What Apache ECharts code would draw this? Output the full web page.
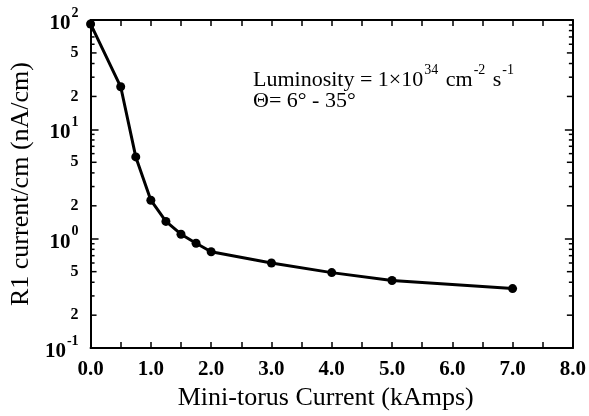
<!DOCTYPE html>
<html>
<head>
<meta charset="utf-8">
<script src="https://cdn.jsdelivr.net/npm/echarts@6/dist/echarts.min.js"></script>
<style>
  html, body { margin: 0; padding: 0; background: #fff; }
  #chart { width: 589px; height: 416px; }
</style>
</head>
<body>
<div id="chart"></div>
<script>
// Mini-torus current (kA) vs. R1 current per cm (nA/cm)
var torusCurrent = [0.0, 0.5, 0.75, 1.0, 1.25, 1.5, 1.75, 2.0, 3.0, 4.0, 5.0, 7.0];
var r1Current    = [92, 24.5, 5.6, 2.25, 1.44, 1.10, 0.91, 0.76, 0.60, 0.49, 0.415, 0.35];

// Log-axis minor ticks (2..9 in every decade) and the ones that get a label
var minorTickValues = [0.2, 0.3, 0.4, 0.5, 0.6, 0.7, 0.8, 0.9,
                       2, 3, 4, 5, 6, 7, 8, 9,
                       20, 30, 40, 50, 60, 70, 80, 90];
var minorLabelValues = [0.2, 0.5, 2, 5, 20, 50];
var minorLabelText   = ['2', '5', '2', '5', '2', '5'];

var serif = '"Liberation Serif", "DejaVu Serif", serif';
var chart = echarts.init(document.getElementById('chart'));

function minorTickItem(params, api) {
  var v = api.value(1);
  var p = api.coord([0, v]);
  var cs = params.coordSys;
  var lead = String(v).replace('0.', '').charAt(0);
  var len = (lead === '2' || lead === '5') ? 6 : 4;
  var style = { stroke: '#000', lineWidth: 1.5 };
  return {
    type: 'group',
    children: [
      { type: 'line', shape: { x1: cs.x, y1: p[1], x2: cs.x + len, y2: p[1] }, style: style },
      { type: 'line', shape: { x1: cs.x + cs.width, y1: p[1], x2: cs.x + cs.width - len, y2: p[1] }, style: style }
    ]
  };
}

function minorLabelItem(params, api) {
  var v = api.value(1);
  var p = api.coord([0, v]);
  var cs = params.coordSys;
  return {
    type: 'text',
    x: cs.x - 12,
    y: p[1],
    style: {
      text: minorLabelText[params.dataIndex],
      fill: '#000',
      font: 'bold 16px ' + serif,
      textAlign: 'right',
      textVerticalAlign: 'middle'
    }
  };
}

var yLabelRich = {
  b: { fontFamily: serif, fontSize: 21, fontWeight: 'bold', color: '#000', lineHeight: 28, verticalAlign: 'bottom' },
  s: { fontFamily: serif, fontSize: 14, fontWeight: 'bold', color: '#000', lineHeight: 28, verticalAlign: 'top', padding: [0, 0, 13, 1] }
};

var noteRich = {
  a: { fontFamily: serif, fontSize: 22, color: '#000', lineHeight: 28, verticalAlign: 'bottom' },
  s: { fontFamily: serif, fontSize: 14, color: '#000', lineHeight: 28, verticalAlign: 'top', padding: [0, 2, 12, 1] }
};

var option = {
  backgroundColor: '#fff',
  animation: false,
  grid: { left: 85, right: 13, top: 20, bottom: 66, containLabel: false },
  xAxis: [
    {
      type: 'value', min: 0, max: 8, interval: 1,
      position: 'bottom',
      name: 'Mini-torus Current (kAmps)',
      nameLocation: 'middle', nameGap: 36,
      nameTextStyle: { fontFamily: serif, fontSize: 26, color: '#000', padding: [0, 12, 0, 0] },
      axisLine: { show: true, onZero: false, lineStyle: { color: '#000', width: 2 } },
      axisTick: { show: true, inside: true, length: 6, lineStyle: { color: '#000', width: 1.5 } },
      minorTick: { show: true, splitNumber: 2, length: 6, lineStyle: { color: '#000', width: 1.5 } },
      axisLabel: {
        margin: 11, color: '#000', fontFamily: serif, fontSize: 21, fontWeight: 'bold',
        formatter: function (v) { return v.toFixed(1); }
      },
      splitLine: { show: false }
    },
    {
      type: 'value', min: 0, max: 8, interval: 1,
      position: 'top',
      axisLine: { show: true, onZero: false, lineStyle: { color: '#000', width: 2 } },
      axisTick: { show: true, inside: true, length: 6, lineStyle: { color: '#000', width: 1.5 } },
      minorTick: { show: true, splitNumber: 2, length: 6, lineStyle: { color: '#000', width: 1.5 } },
      axisLabel: { show: false },
      splitLine: { show: false }
    }
  ],
  yAxis: [
    {
      type: 'log', logBase: 10, min: 0.1, max: 100,
      position: 'left',
      name: 'R1 current/cm (nA/cm)',
      nameLocation: 'middle', nameGap: 55, nameRotate: 90,
      nameTextStyle: { fontFamily: serif, fontSize: 26, color: '#000' },
      axisLine: { show: true, onZero: false, lineStyle: { color: '#000', width: 2 } },
      axisTick: { show: true, inside: true, length: 8, lineStyle: { color: '#000', width: 1.5 } },
      axisLabel: {
        margin: 12,
        formatter: function (v) {
          var e = Math.round(Math.log(v) / Math.LN10);
          return '{b|10}{s|' + e + '}';
        },
        rich: yLabelRich
      },
      splitLine: { show: false }
    },
    {
      type: 'log', logBase: 10, min: 0.1, max: 100,
      position: 'right',
      axisLine: { show: true, onZero: false, lineStyle: { color: '#000', width: 2 } },
      axisTick: { show: true, inside: true, length: 8, lineStyle: { color: '#000', width: 1.5 } },
      axisLabel: { show: false },
      splitLine: { show: false }
    }
  ],
  graphic: [
    {
      type: 'text', left: 253, top: 63,
      style: { text: '{a|Luminosity = 1\u00d710}{s|34}{a| cm}{s|-2}{a| s}{s|-1}', rich: noteRich }
    },
    {
      type: 'text', left: 253, top: 90,
      style: { text: '{a|\u0398= 6\u00b0 - 35\u00b0}', rich: noteRich }
    }
  ],
  series: [
    {
      type: 'line',
      data: torusCurrent.map(function (x, i) { return [x, r1Current[i]]; }),
      symbol: 'circle', symbolSize: 9,
      itemStyle: { color: '#000' },
      lineStyle: { color: '#000', width: 3 },
      z: 5
    },
    {
      type: 'custom',
      data: minorTickValues.map(function (v) { return [0, v]; }),
      renderItem: minorTickItem,
      clip: false, silent: true, z: 6
    },
    {
      type: 'custom',
      data: minorLabelValues.map(function (v) { return [0, v]; }),
      renderItem: minorLabelItem,
      clip: false, silent: true, z: 6
    }
  ]
};

chart.setOption(option);
</script>
</body>
</html>
